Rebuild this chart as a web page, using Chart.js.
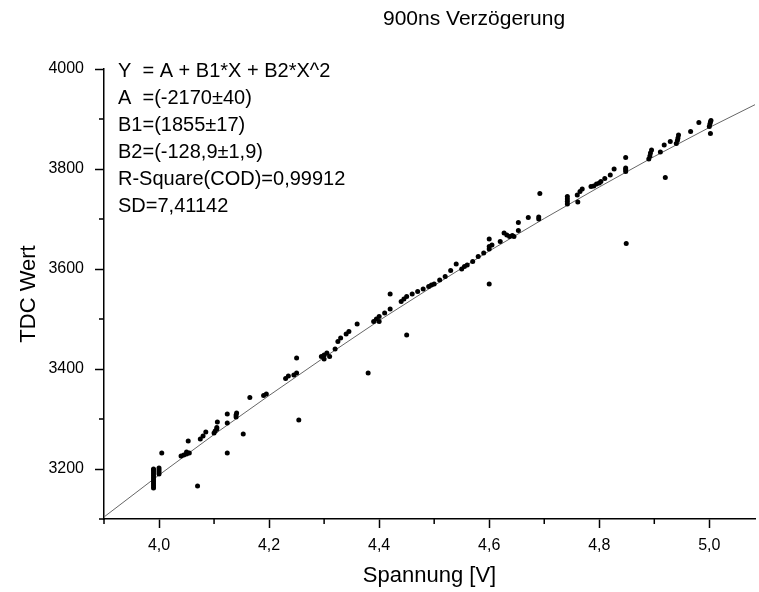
<!DOCTYPE html>
<html>
<head>
<meta charset="utf-8">
<script src="https://cdn.jsdelivr.net/npm/chart.js@4/dist/chart.umd.min.js"></script>
<style>
  html, body { margin: 0; padding: 0; background: #fff; }
</style>
</head>
<body>
<canvas id="mychart" width="759" height="592"></canvas>
<script>
'use strict';

const chartTitle = '900ns Verzögerung';
const xTitle = 'Spannung [V]';
const yTitle = 'TDC Wert';
const fitLines = ['Y  = A + B1*X + B2*X^2', 'A  =(-2170\u00b140)', 'B1=(1855\u00b117)',
  'B2=(-128,9\u00b11,9)', 'R-Square(COD)=0,99912', 'SD=7,41142'];

// measured points (Spannung, TDC Wert)
const spannung = [
  3.99,3.99,3.99,3.99,3.99,3.99,3.99,3.99,3.99,3.99,3.99,
  4.0,4.0,4.0,4.0,4.005,
  4.04,4.045,4.05,4.05,4.055,4.053,4.07,4.075,4.08,4.085,
  4.1,4.102,4.105,4.105,4.106,4.124,4.124,4.124,4.14,4.14,4.141,4.153,4.165,
  4.19,4.195,4.23,4.235,4.245,4.25,4.25,4.254,
  4.295,4.3,4.3,4.305,4.31,4.32,4.325,4.33,4.34,4.345,4.36,4.38,
  4.39,4.395,4.4,4.4,4.41,4.42,4.42,4.44,4.445,4.45,4.45,4.46,4.47,4.48,4.49,4.495,4.5,
  4.51,4.52,4.53,4.54,4.55,4.555,4.56,4.57,4.58,4.59,4.6,4.6,4.605,4.6,4.6,4.62,
  4.627,4.632,4.637,4.642,4.645,4.653,4.653,4.671,4.69,4.69,4.692,
  4.742,4.742,4.742,4.742,4.76,4.765,4.769,4.761,4.785,4.79,4.795,4.8,4.803,
  4.81,4.82,4.827,4.848,4.848,4.848,4.848,4.849,
  4.89,4.892,4.893,4.895,4.911,4.918,4.92,4.929,4.94,4.942,4.943,4.944,
  4.966,4.981,5.0,5.001,5.002,5.003,5.002
];
const tdcWert = [
  3162,3166,3170,3174,3178,3182,3186,3190,3194,3198,3200,
  3190,3194,3198,3202,3232,
  3226,3228,3230,3234,3232,3256,3166,3260,3266,3274,
  3272,3276,3280,3283,3294,3292,3232,3310,3304,3308,3312,3270,3343,
  3347,3350,3381,3386,3388,3392,3422,3298,
  3425,3420,3428,3432,3425,3440,3455,3462,3470,3475,3490,3392,
  3495,3500,3505,3495,3512,3550,3520,3535,3540,3545,3468,3550,3555,3560,3565,3568,3570,
  3578,3585,3597,3610,3600,3605,3608,3615,3625,3632,3640,3645,3648,3660,3570,3655,
  3672,3668,3665,3667,3665,3693,3677,3703,3700,3704,3751,
  3730,3735,3740,3745,3748,3755,3760,3734,3765,3766,3770,3772,3775,
  3781,3788,3800,3823,3795,3799,3802,3651,
  3820,3826,3832,3838,3834,3848,3783,3855,3851,3857,3862,3868,
  3875,3893,3885,3890,3894,3897,3871
];

// fitted curve
const fitX = [3.9,4.0,4.1,4.2,4.3,4.4,4.5,4.6,4.7,4.8,4.9,5.0,5.1];
const fitY = [3104,3188,3269,3347,3423,3497,3567,3636,3701,3764,3825,3883,3938];

// axis tick values (every second one gets a label)
const xTickValues = [3.9,4.0,4.1,4.2,4.3,4.4,4.5,4.6,4.7,4.8,4.9,5.0];
const yTickValues = [3100,3200,3300,3400,3500,3600,3700,3800,3900,4000];

const fontFamily = '"Liberation Sans", Arial, sans-serif';

let points = [];
for (let i = 0; i < spannung.length; i++) {
  points.push({x: spannung[i], y: tdcWert[i]});
}
let fitPoints = [];
for (let i = 0; i < fitX.length; i++) {
  fitPoints.push({x: fitX[i], y: fitY[i]});
}

function isMajor(v, step) {
  return Math.abs(v / step - Math.round(v / step)) < 1e-6;
}

// short minor ticks and the text block
const extras = {
  id: 'extras',
  afterDraw(chart) {
    const ctx = chart.ctx;
    const xs = chart.scales.x, ys = chart.scales.y;
    ctx.save();
    ctx.strokeStyle = '#000';
    ctx.lineWidth = 1.5;
    ctx.beginPath();
    xs.ticks.forEach(t => {
      if (!isMajor(t.value, 0.2)) {
        const px = xs.getPixelForValue(t.value);
        ctx.moveTo(px, xs.top);
        ctx.lineTo(px, xs.top + 5);
      }
    });
    ys.ticks.forEach(t => {
      if (!isMajor(t.value, 200)) {
        const py = ys.getPixelForValue(t.value);
        ctx.moveTo(ys.right, py);
        ctx.lineTo(ys.right - 5, py);
      }
    });
    ctx.stroke();

    ctx.fillStyle = '#000';
    ctx.textBaseline = 'middle';
    ctx.textAlign = 'left';
    ctx.font = '21px ' + fontFamily;
    ctx.fillText(chartTitle, 383, 19);
    ctx.font = '20px ' + fontFamily;
    for (let i = 0; i < fitLines.length; i++) {
      ctx.fillText(fitLines[i], 118, 71 + i * 27);
    }
    ctx.restore();
  }
};

let ctx = document.getElementById('mychart').getContext('2d');
let chart1 = new Chart(ctx, {
  type: 'scatter',
  data: {
    datasets: [{
      type: 'line',
      data: fitPoints,
      borderColor: '#666',
      borderWidth: 1,
      pointRadius: 0,
      fill: false,
      order: 2
    }, {
      data: points,
      backgroundColor: '#000',
      borderWidth: 0,
      pointRadius: 2.5,
      order: 1
    }]
  },
  options: {
    responsive: false,
    animation: false,
    layout: {padding: {top: 69, right: 0, left: 0, bottom: 0}},
    plugins: {legend: {display: false}, tooltip: {enabled: false}},
    scales: {
      x: {
        type: 'linear',
        min: 3.9,
        max: 5.083,
        afterBuildTicks: s => { s.ticks = xTickValues.map(v => ({value: v})); },
        afterFit: s => { s.height = 73; },
        border: {color: '#000', width: 1.5},
        grid: {
          drawOnChartArea: false,
          tickLength: 9,
          tickWidth: 1.5,
          tickColor: c => (c.tick && isMajor(c.tick.value, 0.2)) ? '#000' : 'rgba(0,0,0,0)'
        },
        ticks: {
          autoSkip: false,
          maxRotation: 0,
          padding: 8,
          color: '#000',
          font: {family: fontFamily, size: 16},
          callback: v => isMajor(v, 0.2) ? v.toFixed(1).replace('.', ',') : ''
        },
        title: {
          display: true,
          text: xTitle,
          color: '#000',
          font: {family: fontFamily, size: 22},
          padding: {top: 0, bottom: 3}
        }
      },
      y: {
        type: 'linear',
        min: 3100,
        max: 4000,
        afterBuildTicks: s => { s.ticks = yTickValues.map(v => ({value: v})); },
        afterFit: s => { s.width = 104; },
        border: {color: '#000', width: 1.5},
        grid: {
          drawOnChartArea: false,
          tickLength: 9,
          tickWidth: 1.5,
          tickColor: c => (c.tick && isMajor(c.tick.value, 200)) ? '#000' : 'rgba(0,0,0,0)'
        },
        ticks: {
          autoSkip: false,
          padding: 11,
          color: '#000',
          font: {family: fontFamily, size: 16},
          callback: v => isMajor(v, 200) ? String(v) : ''
        },
        title: {
          display: true,
          text: yTitle,
          color: '#000',
          font: {family: fontFamily, size: 22},
          padding: {top: 16, bottom: 0}
        }
      }
    }
  },
  plugins: [extras]
});
</script>
</body>
</html>
